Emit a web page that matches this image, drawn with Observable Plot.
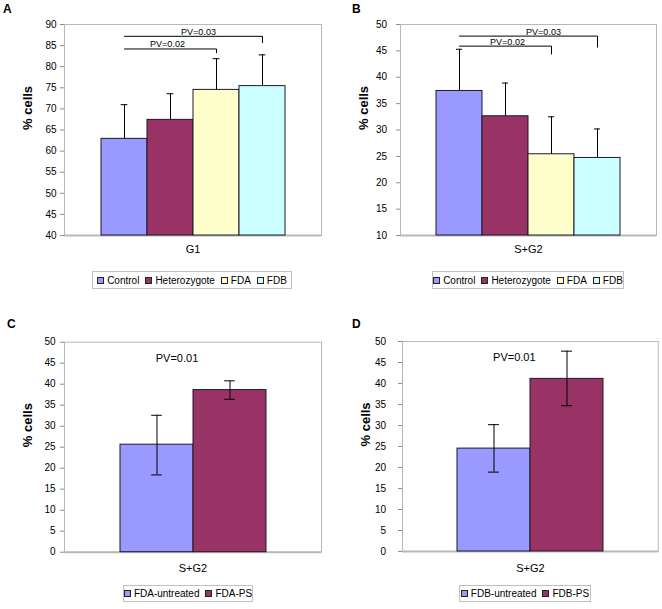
<!DOCTYPE html>
<html><head><meta charset="utf-8">
<script src="https://cdn.jsdelivr.net/npm/d3@7"></script>
<script src="https://cdn.jsdelivr.net/npm/@observablehq/plot@0.6"></script>
<style>
body{margin:0;background:#fff;}
#chart{position:relative;width:662px;height:609px;font-family:"Liberation Sans",Arial,sans-serif;background:#fff;overflow:hidden;}
.panel{position:absolute;}
.panel svg{overflow:visible;}
.letter{position:absolute;font-weight:bold;font-size:12px;line-height:12px;}
.legend{position:absolute;box-sizing:border-box;border:1px solid #c0c0c0;display:flex;align-items:center;justify-content:center;font-size:10px;gap:6px;white-space:nowrap;}
.legend .item{display:flex;align-items:center;}
.legend .sw{display:inline-block;width:7px;height:7px;border:1px solid #222;margin-right:3px;box-sizing:border-box;}
</style></head><body><div id="chart"></div>
<script>
// ---- data ----
const groupsAB = ["Control", "Heterozygote", "FDA", "FDB"];
const colorsAB = ["#9999FF", "#993366", "#FFFFCC", "#CCFFFF"];
const g1Mean  = [62.9, 67.4, 74.5, 75.4];
const g1Upper = [71.0, 73.6, 81.9, 82.8];
const sg2Mean  = [37.4, 32.6, 25.4, 24.7];
const sg2Upper = [45.3, 38.9, 32.5, 30.2];

const groupsC = ["FDA-untreated", "FDA-PS"];
const cMean  = [25.6, 38.6];
const cLower = [18.4, 36.4];
const cUpper = [32.6, 40.8];

const groupsD = ["FDB-untreated", "FDB-PS"];
const dMean  = [24.5, 41.1];
const dLower = [18.9, 34.7];
const dUpper = [30.2, 47.7];
const colorsCD = ["#9999FF", "#993366"];

const ticksA = [40, 45, 50, 55, 60, 65, 70, 75, 80, 85, 90];
const ticksB = [10, 15, 20, 25, 30, 35, 40, 45, 50];
const ticksCD = [0, 5, 10, 15, 20, 25, 30, 35, 40, 45, 50];

const bracketLabelsAB = ["PV=0.02", "PV=0.03"];
const bracketFrom = ["Control", "Control"];
const bracketTo = ["FDA", "FDB"];
const bracketLevelA = [84.2, 87.2];
const bracketDropA = [83.3, 85.7];
const bracketLevelB = [45.9, 47.8];
const bracketDropB = [44.4, 45.7];
const pvCD = "PV=0.01";
const yLabel = "% cells";

// ---- drawing ----
const chart = document.getElementById("chart");
const FONT = '"Liberation Sans", Arial, sans-serif';

function drawPanel(p) {
  const rows = p.groups.map((g, i) => ({
    name: g, mean: p.mean[i], upper: p.upper[i],
    lower: p.lower ? p.lower[i] : p.mean[i]
  }));
  const plotW = p.width - p.margin.left - p.margin.right;
  const step = plotW / (rows.length + 2 * p.pad);
  const capInset = (step - p.cap) / 2;
  const y0 = p.ticks[0];
  const marks = [
    Plot.frame({stroke: "#b8b8b8"}),
    Plot.ruleY([y0], {stroke: "#b8b8b8", strokeWidth: 2}),
    Plot.axisY(p.ticks, {tickSize: 4, tickPadding: p.tickPad, stroke: "#8c8c8c", fill: "#000", fontSize: 10, label: null}),
    Plot.barY(rows, {x: "name", y1: y0, y2: "mean", fill: "name", stroke: "#1a1a2a", strokeWidth: 1}),
    Plot.ruleX(rows, {x: "name", y1: "lower", y2: "upper", stroke: "#000"}),
    Plot.tickY(rows, {x: "name", y: "upper", insetLeft: capInset, insetRight: capInset, stroke: "#000"}),
    Plot.text([p.category], {frameAnchor: "bottom", dy: p.catDy, fontSize: 11, lineAnchor: "middle"}),
    Plot.text([yLabel], {frameAnchor: "left", rotate: -90, dx: -37, fontSize: 13, fontWeight: "bold"})
  ];
  if (p.lower) {
    marks.push(Plot.tickY(rows, {x: "name", y: "lower", insetLeft: capInset, insetRight: capInset, stroke: "#000"}));
  }
  if (p.brackets) {
    p.brackets.labels.forEach((lab, i) => {
      const pts = [
        {x: p.brackets.from[i], y: p.brackets.level[i]},
        {x: p.brackets.to[i], y: p.brackets.level[i]},
        {x: p.brackets.to[i], y: p.brackets.drop[i]}
      ];
      marks.push(Plot.line(pts, {x: "x", y: "y", stroke: "#000", strokeWidth: 1}));
      marks.push(Plot.text([{x: p.groups[1], y: p.brackets.level[i], t: lab}],
        {x: "x", y: "y", text: "t", lineAnchor: "bottom", dy: -1.5, dx: p.bracketDx[i], fontSize: 9}));
    });
  }
  if (p.pv) {
    marks.push(Plot.text([p.pv], {frameAnchor: "top", lineAnchor: "top", dy: 11.5, dx: -16, fontSize: 11}));
  }
  const svg = Plot.plot({
    width: p.width, height: p.height,
    marginTop: p.margin.top, marginRight: p.margin.right,
    marginBottom: p.margin.bottom, marginLeft: p.margin.left,
    style: {fontFamily: FONT, fontSize: "10px", background: "transparent", color: "#000"},
    x: {type: "band", domain: p.groups, paddingInner: 0, paddingOuter: p.pad, axis: null},
    y: {domain: [p.ticks[0], p.ticks[p.ticks.length - 1]]},
    color: {domain: p.groups, range: p.colors},
    marks
  });
  const div = document.createElement("div");
  div.className = "panel";
  div.style.left = p.left + "px";
  div.style.top = p.top + "px";
  div.appendChild(svg);
  chart.appendChild(div);

  const letter = document.createElement("div");
  letter.className = "letter";
  letter.textContent = p.letter;
  letter.style.left = p.letterPos[0] + "px";
  letter.style.top = p.letterPos[1] + "px";
  chart.appendChild(letter);

  const lg = document.createElement("div");
  lg.className = "legend";
  lg.style.left = p.legend[0] + "px";
  lg.style.top = p.legend[1] + "px";
  lg.style.width = p.legend[2] + "px";
  lg.style.height = p.legend[3] + "px";
  p.groups.forEach((g, i) => {
    const it = document.createElement("span");
    it.className = "item";
    const sw = document.createElement("span");
    sw.className = "sw";
    sw.style.background = p.colors[i];
    it.appendChild(sw);
    it.appendChild(document.createTextNode(g));
    lg.appendChild(it);
  });
  chart.appendChild(lg);
}

drawPanel({
  letter: "A", letterPos: [3, 3], left: 0, top: 0, width: 331, height: 300,
  margin: {top: 24, right: 10, bottom: 65, left: 64},
  groups: groupsAB, colors: colorsAB, mean: g1Mean, upper: g1Upper,
  ticks: ticksA, pad: 0.78, tickPad: 4, cap: 7, category: "G1", catDy: 14,
  brackets: {labels: bracketLabelsAB, from: bracketFrom, to: bracketTo, level: bracketLevelA, drop: bracketDropA},
  bracketDx: [-3, 28],
  legend: [92, 271, 200, 18]
});
drawPanel({
  letter: "B", letterPos: [352, 3], left: 331, top: 0, width: 331, height: 300,
  margin: {top: 24, right: 6, bottom: 65, left: 69},
  groups: groupsAB, colors: colorsAB, mean: sg2Mean, upper: sg2Upper,
  ticks: ticksB, pad: 0.73, tickPad: 9.5, cap: 7, category: "S+G2", catDy: 14,
  brackets: {labels: bracketLabelsAB, from: bracketFrom, to: bracketTo, level: bracketLevelB, drop: bracketDropB},
  bracketDx: [2, 38],
  legend: [432, 271, 192, 18]
});
drawPanel({
  letter: "C", letterPos: [7, 318], left: 0, top: 300, width: 331, height: 309,
  margin: {top: 41.7, right: 10, bottom: 57.3, left: 64},
  groups: groupsC, colors: colorsCD, mean: cMean, upper: cUpper, lower: cLower,
  ticks: ticksCD, pad: 0.75, tickPad: 5, cap: 11, category: "S+G2", catDy: 16.5,
  pv: pvCD,
  legend: [123, 585, 130, 17]
});
drawPanel({
  letter: "D", letterPos: [352, 318], left: 331, top: 300, width: 331, height: 309,
  margin: {top: 41, right: 4.3, bottom: 58, left: 71},
  groups: groupsD, colors: colorsCD, mean: dMean, upper: dUpper, lower: dLower,
  ticks: ticksCD, pad: 0.75, tickPad: 12.5, cap: 11, category: "S+G2", catDy: 16.5,
  pv: pvCD,
  legend: [459, 585, 132, 17]
});
</script>
</body></html>
